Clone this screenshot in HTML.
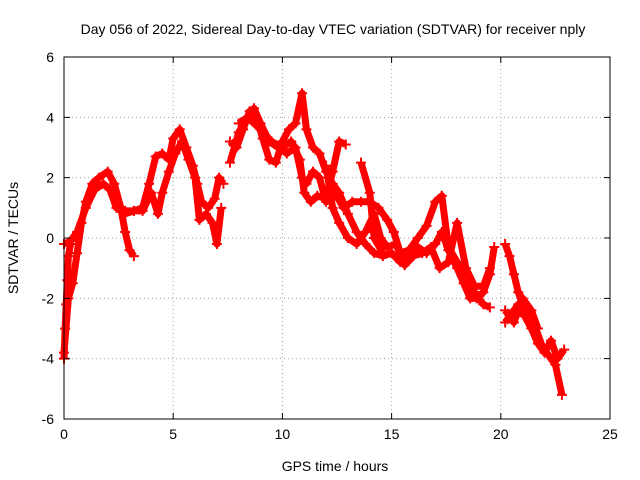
<!DOCTYPE html>
<html><head><meta charset="utf-8"><style>
body{margin:0;background:#fff}
svg{display:block;font-family:"Liberation Sans",sans-serif}
</style></head><body>
<svg id="chart" width="640" height="480">
<rect width="640" height="480" fill="#fff"/>
<text x="333" y="34" font-size="14" text-anchor="middle">Day 056 of 2022, Sidereal Day-to-day VTEC variation (SDTVAR) for receiver nply</text>
<text x="0" y="0" font-size="14" text-anchor="middle" transform="translate(18,238) rotate(-90)">SDTVAR / TECUs</text>
<text x="335" y="471" font-size="14" text-anchor="middle">GPS time / hours</text>
<g id="grid"></g>
<g id="series"></g>
<rect x="64" y="57" width="546" height="362" fill="none" stroke="#000" stroke-width="1"/>
<g id="ticks"></g>
</svg>
<script>
const xTicks=[0,5,10,15,20,25];
const yTicks=[-6,-4,-2,0,2,4,6];
const s0t=[0,0.05,0.1,0.15,0.2,0.3];
const s0v=[-4.0,-3.0,-2.2,-1.4,-0.6,-0.2];
const s1t=[0,0.2,0.4,0.6,0.8,1.0,1.3,1.6,2.0,2.3,2.6,2.8,3.0,3.2];
const s1v=[-3.8,-2,-1.5,-0.5,0.5,1.2,1.8,2.0,2.2,1.8,1.0,0.2,-0.4,-0.6];
const s2t=[0,0.3,0.6,1.0,1.4,1.8,2.1,2.4,2.8,3.2,3.6,3.9,4.2,4.5,4.8,5.0,5.3,5.6,5.9,6.1,6.3,6.6,6.9,7.1,7.3];
const s2v=[-0.2,-0.1,0.2,1.0,1.6,1.8,1.6,1.0,0.9,0.9,1.0,1.8,2.7,2.8,2.6,3.3,3.6,3.0,2.4,1.8,1.2,1.0,1.3,2.0,1.8];
const s3t=[2.5,2.8,3.2,3.6,4.0,4.3,4.5,4.8,5.1,5.4,5.7,6.0,6.2,6.5,6.8,7.0,7.2];
const s3v=[1.0,0.8,0.9,0.9,1.5,0.8,1.5,2.2,2.8,3.2,2.6,2.0,0.6,0.8,0.5,-0.2,1.0];
const s4t=[7.6,7.9,8.2,8.5,8.8,9.1,9.4,9.7,10.0,10.3,10.6,10.9,11.1,11.4,11.7,12.0,12.3,12.6,13.0,13.4,13.8,14.2,14.6,15.0,15.4,15.8,16.2,16.6,17.0,17.3,17.6,18.0,18.3,18.6,18.9,19.2,19.5,19.7];
const s4v=[3.2,3.0,3.6,4.2,4.0,3.3,2.6,2.5,3.2,3.6,3.8,4.8,3.6,3.0,2.8,2.2,1.8,1.5,0.8,0.2,-0.2,-0.5,-0.6,-0.5,-0.8,-0.6,-0.3,-0.5,-0.2,0.2,-0.4,-1.0,-1.5,-2.0,-2.0,-1.8,-1.2,-0.3];
const s5t=[7.6,8.0,8.4,8.7,9.0,9.4,9.8,10.2,10.6,10.9,11.1,11.4,11.7,12.0,12.4,12.8,13.2,13.6,14.0,14.4,14.8,15.1,15.4,15.8,16.2,16.6,17.0,17.3,17.6,18.0,18.4,18.8,19.2,19.5];
const s5v=[2.5,3.5,4.0,4.3,3.8,3.2,3.0,2.8,3.0,2.0,1.8,2.2,2.0,1.2,1.5,1.0,1.2,1.2,1.2,1.0,0.6,0.2,-0.5,-0.4,0.0,0.4,1.2,1.4,-0.3,-0.8,-1.5,-1.8,-2.2,-2.3];
const s6t=[8.0,8.4,9.0,9.5,10.0,10.4,10.8,11.0,11.3,11.6,12.0,12.3,12.6,12.9];
const s6v=[3.8,4.0,3.6,3.2,3.0,3.2,2.6,1.5,1.2,1.4,1.3,2.2,3.2,3.1];
const s7t=[12.0,12.3,12.6,13.0,13.4,13.8,14.2,14.5,14.8,15.2,15.6,16.0,16.4,16.8,17.2,17.6,18.0,18.4,18.8,19.2,19.5];
const s7v=[2.4,1.0,0.5,0.0,-0.2,0.2,0.8,0.0,-0.3,-0.2,-0.9,-0.6,-0.5,-0.3,-1.0,-0.8,0.5,-1.0,-1.6,-1.6,-1.0];
const s8t=[13.6,14.0,14.2,14.6];
const s8v=[2.5,1.5,0.0,-0.5];
const s9t=[20.2,20.4,20.6,20.8,21.0,21.3,21.6,21.9,22.2,22.5,22.8];
const s9v=[-0.2,-0.6,-1.2,-1.8,-2.2,-2.6,-3.0,-3.6,-3.9,-4.2,-5.2];
const s10t=[20.2,20.5,20.8,21.1,21.4,21.7,22.0,22.3,22.6,22.9];
const s10v=[-2.8,-2.5,-2.2,-2.6,-3.0,-3.5,-3.8,-3.4,-4.0,-3.7];
const s11t=[20.2,20.6,21.0,21.4,21.7];
const s11v=[-2.4,-2.8,-2.0,-2.4,-3.0];

const L=64,R=610,T=57,B=419;
const xs=t=>L+(t-0)/25*(R-L);
const ys=v=>B-(v+6)/12*(B-T);
const NS="http://www.w3.org/2000/svg";
function mk(tag,parent){const e=document.createElementNS(NS,tag);parent.appendChild(e);return e;}
const grid=document.getElementById('grid'),ticks=document.getElementById('ticks'),ser=document.getElementById('series');
xTicks.forEach(t=>{
  const x=xs(t);
  if(t>0&&t<25){const g=mk('line',grid);
  
  
  g.setAttribute('x1',x);g.setAttribute('x2',x);g.setAttribute('y1',T);g.setAttribute('y2',B);g.setAttribute('stroke','#a0a0a0');g.setAttribute('stroke-dasharray','1,3');}
  const tk=mk('path',ticks);
  
  
  tk.setAttribute('d',`M${x},${B}v-6M${x},${T}v6`);tk.setAttribute('stroke','#000');
  const lb=mk('text',ticks);
  
  
  lb.setAttribute('x',x);lb.setAttribute('y',B+20);lb.setAttribute('font-size','14');lb.setAttribute('text-anchor','middle');lb.textContent=t;
});
yTicks.forEach(v=>{
  const y=ys(v);
  if(v>-6&&v<6){const g=mk('line',grid);
  
  
  g.setAttribute('x1',L);g.setAttribute('x2',R);g.setAttribute('y1',y);g.setAttribute('y2',y);g.setAttribute('stroke','#a0a0a0');g.setAttribute('stroke-dasharray','1,3');}
  const tk=mk('path',ticks);
  
  
  tk.setAttribute('d',`M${L},${y}h6M${R},${y}h-6`);tk.setAttribute('stroke','#000');
  const lb=mk('text',ticks);
  
  
  lb.setAttribute('x',L-10);lb.setAttribute('y',y+5);lb.setAttribute('font-size','14');lb.setAttribute('text-anchor','end');lb.textContent=v;
});
const all=[[s0t,s0v],[s1t,s1v],[s2t,s2v],[s3t,s3v],[s4t,s4v],[s5t,s5v],[s6t,s6v],[s7t,s7v],[s8t,s8v],[s9t,s9v],[s10t,s10v],[s11t,s11v]];
all.forEach(([tt,vv],i)=>{
  const p=mk('polyline',ser);
  
  
  p.setAttribute('points',tt.map((t,j)=>xs(t)+','+ys(vv[j])).join(' '));
  p.setAttribute('fill','none');p.setAttribute('stroke','#f00');p.setAttribute('stroke-width','7');p.setAttribute('stroke-linejoin','round');
  tt.forEach((t,j)=>{
    const m=mk('path',ser);
    
    
    const x=xs(t),y=ys(vv[j]);
    m.setAttribute('d',`M${x-5},${y}h10M${x},${y-5}v10`);m.setAttribute('stroke','#f00');m.setAttribute('stroke-width','2');
  });
});
</script>
</body></html>
